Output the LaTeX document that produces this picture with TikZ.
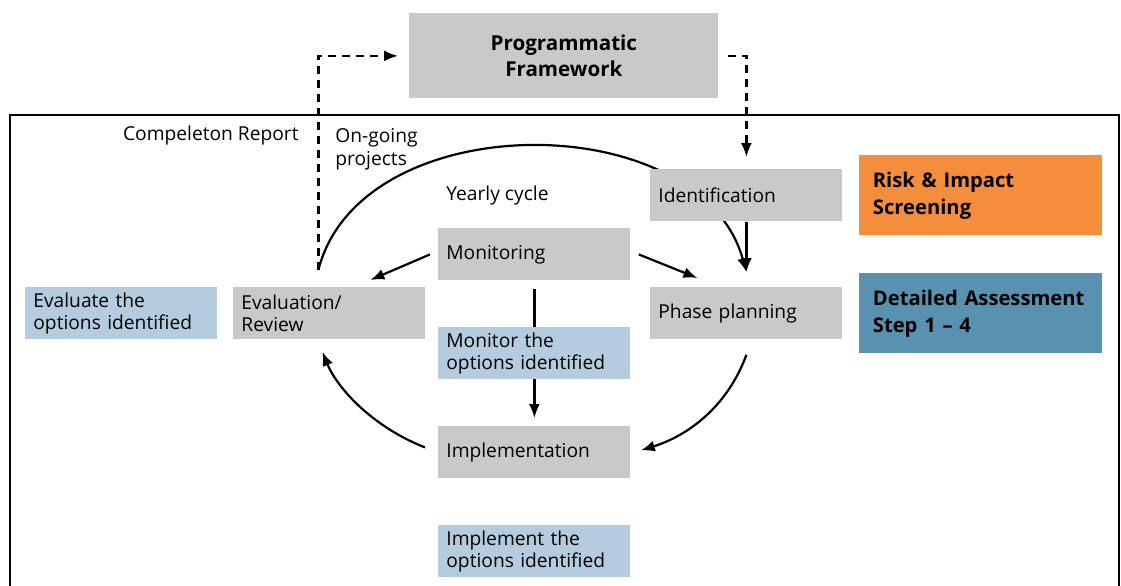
\documentclass[tikz,border=0pt]{standalone}
\usepackage{fontspec}
\setmainfont{Open Sans}
\usetikzlibrary{backgrounds,arrows.meta}
\definecolor{boxgray}{RGB}{200,201,203}
\definecolor{optblue}{RGB}{181,204,222}
\definecolor{riskorange}{RGB}{245,142,60}
\definecolor{stepblue}{RGB}{88,146,176}
\tikzset{
 graybox/.style={fill=boxgray, anchor=north west, minimum width=96pt, minimum height=26pt,
   text width=88pt, inner xsep=4pt, inner ysep=0pt, align=left, font=\fontsize{9.6}{11.3}\selectfont},
 optbox/.style={graybox, fill=optblue},
 headbox/.style={anchor=north west, minimum height=40pt, text width=108pt, inner xsep=6.75pt,
   inner ysep=0pt, align=left, font=\fontsize{10.1}{13.5}\selectfont\bfseries},
 plaintext/.style={font=\fontsize{9.6}{11.3}\selectfont, inner sep=0pt},
 cycarrow/.style={-{Latex[length=7pt,width=5.5pt]}, line width=1.1pt},
 dasharrow/.style={cycarrow, dash pattern=on 4pt off 3pt}
}

\begin{document}
\begin{tikzpicture}[x=0.5pt,y=-0.5pt]
 \useasboundingbox (0,0) rectangle (1121,585);
 \draw[line width=0.6pt] (10,590) |- (1119,115) -- (1119,590);

 \node[graybox, minimum width=154.5pt, minimum height=42.5pt, text width=146.5pt, align=center,
   font=\fontsize{10.3}{13}\selectfont\bfseries] (pf) at (409,13) {Programmatic\\Framework};

 \node[graybox] (ident) at (650,169) {Identification};
 \node[headbox, fill=riskorange] (risk) at (859,155) {Risk \& Impact\\Screening};
 \node[headbox, fill=stepblue] (detail) at (859,273) {\mbox{Detailed Assessment}\\Step 1 -- 4};

 \node[graybox] (mon) at (438,228) {Monitoring};
 \node[optbox] (evalopt) at (25,287) {Evaluate the\\options identified};
 \node[graybox] (eval) at (233,287) {Evaluation/\\Review};
 \node[graybox] (plan) at (650,287) {Phase planning};
 \node[optbox] (monopt) at (438,327) {Monitor the\\options identified};
 \node[graybox] (impl) at (438,426) {Implementation};
 \node[optbox] (implopt) at (438,525) {Implement the\\options identified};

 \node[plaintext, anchor=east] (compl) at (299,136) {Compeleton Report};
 \node[plaintext, anchor=north west, align=left] (ongo) at (335,128) {On-going\\projects};
 \node[plaintext, anchor=west] (yearly) at (446,196) {Yearly cycle};

 \begin{scope}[on background layer]
 \draw[cycarrow] ([xshift=-5.5pt,yshift=8.5pt]eval.north) .. controls (360,105) and (700,105) .. ([yshift=7.5pt]plan.north);
 \draw[cycarrow] (ident.south) -- ([yshift=7.5pt]plan.north);
 \draw[cycarrow] ([xshift=-4pt]mon.west) -- ([xshift=20.5pt,yshift=3.5pt]eval.north);
 \draw[cycarrow] ([xshift=4pt]mon.east) -- ([xshift=-24.5pt,yshift=4.5pt]plan.north);
 \draw[cycarrow] ([yshift=-4pt]mon.south) -- ([yshift=4pt]impl.north);
 \draw[cycarrow] ([xshift=-6.5pt,yshift=2.5pt]impl.west) .. controls (375,428) and (338,390) .. ([xshift=-3.5pt,yshift=-6pt]eval.south);
 \draw[cycarrow] ([yshift=-7.5pt]plan.south) .. controls (728,405) and (690,435) .. ([xshift=5pt,yshift=1pt]impl.east);
 \draw[dasharrow] ([xshift=-5.5pt,yshift=8.5pt]eval.north) |- ([xshift=-5.5pt]pf.west);
 \draw[dasharrow] ([xshift=4.5pt]pf.east) -| ([yshift=6pt]ident.north);
 \end{scope}
\end{tikzpicture}
\end{document}
